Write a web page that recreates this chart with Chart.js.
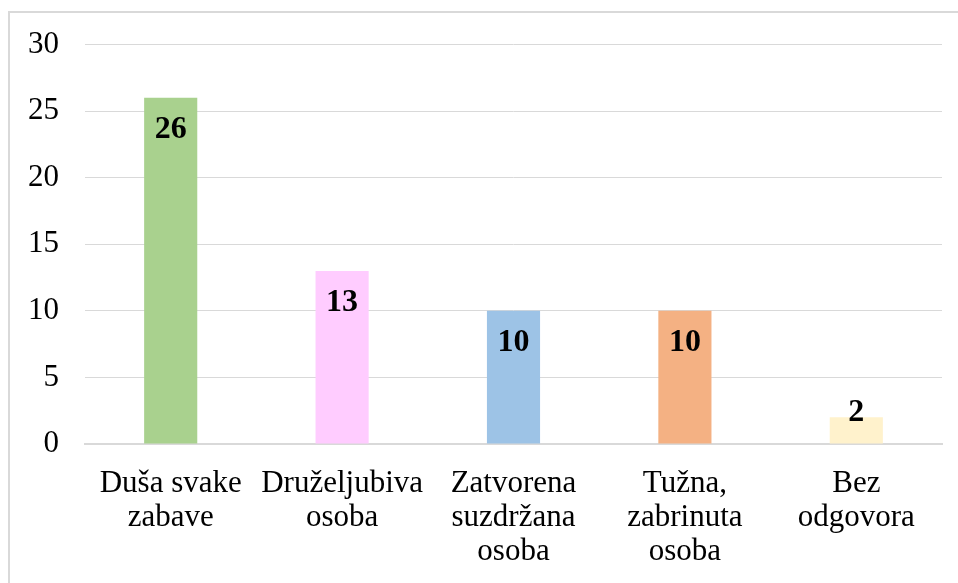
<!DOCTYPE html>
<html>
<head>
<meta charset="utf-8">
<script src="https://cdn.jsdelivr.net/npm/chart.js@4.4.1/dist/chart.umd.min.js"></script>
<style>
  html, body { margin: 0; padding: 0; background: #fff; }
  #wrap { position: relative; width: 958px; height: 583px; overflow: hidden; }
  #frame { position: absolute; left: 8px; top: 11px; width: 1000px; height: 700px; border: 2px solid #d9d9d9; box-sizing: border-box; }
  canvas { position: absolute; left: 0; top: 0; }
</style>
</head>
<body>
<div id="wrap">
  <div id="frame"></div>
  <canvas id="c" width="958" height="583"></canvas>
</div>
<script>
const categories = [
  ["Duša svake", "zabave"],
  ["Druželjubiva", "osoba"],
  ["Zatvorena", "suzdržana", "osoba"],
  ["Tužna,", "zabrinuta", "osoba"],
  ["Bez", "odgovora"]
];
const values = [26, 13, 10, 10, 2];
const barColors = ["#A9D18E", "#FFCCFF", "#9DC3E6", "#F4B183", "#FFF2CC"];
const yTicks = [0, 5, 10, 15, 20, 25, 30];

const FONT = "'Liberation Serif', 'Times New Roman', serif";

const valueLabels = {
  id: 'valueLabels',
  afterDatasetsDraw(chart) {
    const ctx = chart.ctx;
    const meta = chart.getDatasetMeta(0);
    ctx.save();
    ctx.font = "bold 32px " + FONT;
    ctx.fillStyle = "#000";
    ctx.textAlign = "center";
    ctx.textBaseline = "middle";
    meta.data.forEach((bar, i) => {
      const h = bar.base - bar.y;
      const cy = h > 60 ? bar.y + 32 : bar.y - 5;
      ctx.fillText(String(values[i]), bar.x, cy);
    });
    ctx.restore();
  }
};

new Chart(document.getElementById('c'), {
  type: 'bar',
  data: {
    labels: categories,
    datasets: [{
      data: values,
      backgroundColor: barColors,
      borderWidth: 0,
      barPercentage: 0.31,
      categoryPercentage: 1.0
    }]
  },
  options: {
    responsive: false,
    animation: false,
    devicePixelRatio: 1,
    layout: { padding: { left: 0, top: 44, right: 16, bottom: 0 } },
    plugins: { legend: { display: false }, tooltip: { enabled: false } },
    scales: {
      x: {
        grid: { display: false },
        border: { display: true, color: '#d9d9d9', width: 2 },
        ticks: {
          color: '#000',
          font: { family: FONT, size: 31, lineHeight: 1.1 },
          padding: 15,
          maxRotation: 0,
          autoSkip: false
        },
        afterFit(scale) { scale.height = 139; }
      },
      y: {
        min: 0,
        max: 30,
        afterBuildTicks(scale) { scale.ticks = yTicks.map(v => ({ value: v })); },
        grid: { color: '#d9d9d9', lineWidth: 1, drawTicks: false },
        border: { display: false },
        ticks: {
          color: '#000',
          font: { family: FONT, size: 31 },
          padding: 26
        },
        afterFit(scale) { scale.width = 85; }
      }
    }
  },
  plugins: [valueLabels]
});
</script>
</body>
</html>
